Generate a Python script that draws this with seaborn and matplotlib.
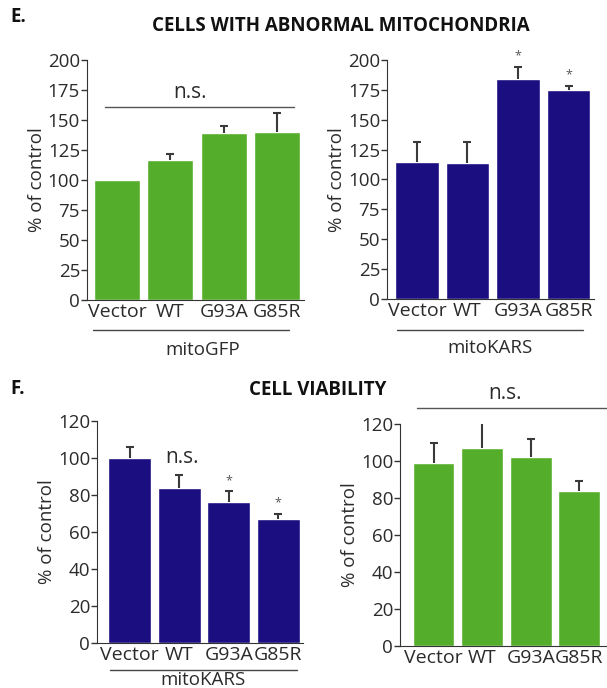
import numpy as np
import pandas as pd
import matplotlib
matplotlib.use("Agg")
import matplotlib.pyplot as plt
import matplotlib.transforms as mtransforms
import seaborn as sns

# data
groups = ["Vector", "WT", "G93A", "G85R"]

abn_gfp = [100, 117, 139, 140]
abn_gfp_err = [0, 5, 6, 16]
abn_kars = [115, 114, 184, 175]
abn_kars_err = [16, 17, 10, 3]

via_kars = [100, 84, 76, 67]
via_kars_err = [6, 7, 6, 2.5]
via_gfp = [99, 107, 102, 84]
via_gfp_err = [11, 17, 10, 5]

green = "#55ae2b"
navy = "#1b0e80"
txt = "#2b2b2b"

sns.set_style("ticks")
plt.rcParams["font.family"] = ["Open Sans", "DejaVu Sans"]
plt.rcParams["axes.edgecolor"] = "#333333"
plt.rcParams["xtick.color"] = "#333333"
plt.rcParams["ytick.color"] = "#333333"

fig = plt.figure(figsize=(6.07, 6.88), dpi=100)


def bar_panel(rect, vals, errs, color, ylim, step, xlim):
    ax = fig.add_axes(rect)
    df = pd.DataFrame({"group": groups, "val": vals})
    sns.barplot(data=df, x="group", y="val", color=color, width=0.86,
                errorbar=None, saturation=1, ax=ax)
    # upper half error bars only
    idx = [i for i, e in enumerate(errs) if e > 0]
    _, caps, _ = ax.errorbar(idx, [vals[i] for i in idx],
                             yerr=[np.zeros(len(idx)), [errs[i] for i in idx]],
                             fmt="none", ecolor="#3a3a3a", elinewidth=1.5,
                             capsize=3, capthick=1.5)
    caps[0].remove()
    ax.set_ylim(0, ylim)
    ax.set_yticks(np.arange(0, ylim + 1, step))
    ax.set_xlim(*xlim)
    ax.set_xlabel("")
    ax.set_ylabel("% of control", fontsize=13.5, color=txt, labelpad=1)
    ax.tick_params(axis="y", labelsize=13.5, length=4, width=1, pad=1,
                   labelcolor=txt)
    ax.tick_params(axis="x", labelsize=14, length=0, pad=2, labelcolor=txt)
    sns.despine(ax=ax)
    return ax


def group_label(ax, x0, x1, yline, xtext, ytext, label):
    tr = mtransforms.blended_transform_factory(ax.transData, ax.transAxes)
    ax.plot([x0, x1], [yline, yline], color="#444444", lw=1, transform=tr,
            clip_on=False)
    ax.text(xtext, ytext, label, transform=tr, ha="center", va="center",
            fontsize=13.5, color=txt)


# E. cells with abnormal mitochondria
ax1 = bar_panel([0.1433, 0.5640, 0.3575, 0.3488], abn_gfp, abn_gfp_err,
                green, 200, 25, (-0.56, 3.5))
ax1.plot([-0.22, 3.31], [161, 161], color="#555555", lw=1, clip_on=False)
ax1.text(1.36, 164, "n.s.", ha="center", va="bottom", fontsize=15, color=txt)
group_label(ax1, -0.45, 3.22, -0.125, 1.6, -0.21, "mitoGFP")

ax2 = bar_panel([0.6376, 0.5654, 0.3410, 0.3474], abn_kars, abn_kars_err,
                navy, 200, 25, (-0.59, 3.5))
ax2.text(2, 198, "*", ha="center", va="bottom", fontsize=9, color="#555555",
         clip_on=False)
ax2.text(3, 182, "*", ha="center", va="bottom", fontsize=9, color="#555555")
group_label(ax2, -0.39, 3.28, -0.13, 1.44, -0.205, "mitoKARS")

# F. cell viability
ax3 = bar_panel([0.1598, 0.0654, 0.3394, 0.3227], via_kars, via_kars_err,
                navy, 120, 20, (-0.66, 3.5))
ax3.text(1.06, 100.5, "n.s.", ha="center", va="center", fontsize=15, color=txt)
ax3.text(2, 84, "*", ha="center", va="bottom", fontsize=9, color="#555555")
ax3.text(3, 72, "*", ha="center", va="bottom", fontsize=9, color="#555555")
group_label(ax3, -0.40, 3.38, -0.12, 1.48, -0.165, "mitoKARS")

ax4 = bar_panel([0.659, 0.0610, 0.345, 0.3227], via_gfp, via_gfp_err,
                green, 120, 20, (-0.69, 3.62))
ax4.plot([-0.34, 3.7], [128.6, 128.6], color="#555555", lw=1, clip_on=False)
ax4.text(1.47, 131, "n.s.", ha="center", va="bottom", fontsize=15, color=txt,
         clip_on=False)

fig.text(10 / 607, 1 - 17 / 688, "E.", fontsize=13.5, fontweight="bold",
         va="center", color="#111111")
fig.text(341 / 607, 1 - 26 / 688, "CELLS WITH ABNORMAL MITOCHONDRIA",
         fontsize=13.5, fontweight="bold", ha="center", va="center",
         color="#111111")
fig.text(10 / 607, 1 - 389 / 688, "F.", fontsize=13.5, fontweight="bold",
         va="center", color="#111111")
fig.text(318 / 607, 1 - 390 / 688, "CELL VIABILITY", fontsize=13.5,
         fontweight="bold", ha="center", va="center", color="#111111")

fig.savefig("out.png", dpi=100)
